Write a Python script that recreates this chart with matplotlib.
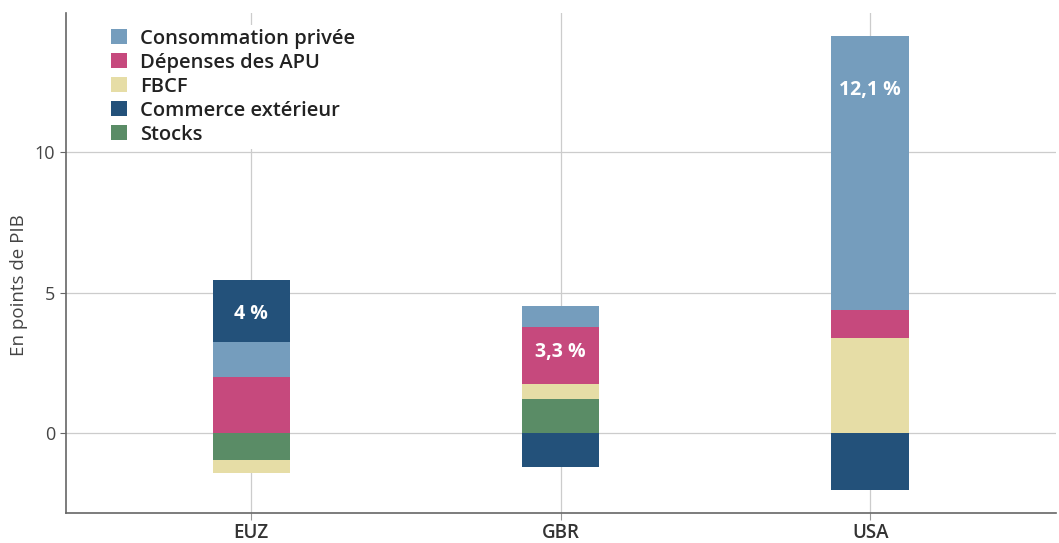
import matplotlib
matplotlib.use("Agg")
from matplotlib import pyplot as plt
from matplotlib.patches import Patch

plt.rcParams['font.family'] = ['Open Sans', 'DejaVu Sans']

countries = ["EUZ", "GBR", "USA"]
series = ["Consommation privée", "Dépenses des APU", "FBCF", "Commerce extérieur", "Stocks"]
colors = ["#759dbd", "#c6497d", "#e6dda6", "#23517a", "#5a8c66"]

# contributions in points of GDP, per country
conso = [1.25, 0.75, 9.75]
apu = [2.0, 2.03, 1.0]
fbcf = [-0.46, 0.53, 3.38]
commerce = [2.2, -1.21, -2.03]
stocks = [-0.96, 1.21, 0.0]

# stacking order (positive and negative stacked separately)
order = [
    ("Stocks", stocks),
    ("FBCF", fbcf),
    ("Dépenses des APU", apu),
    ("Consommation privée", conso),
    ("Commerce extérieur", commerce),
]
totals = ["4 %", "3,3 %", "12,1 %"]
label_y = [4.25, 2.9, 12.2]

color_of = dict(zip(series, colors))

fig, ax = plt.subplots(figsize=(10.59, 5.43), dpi=100)
fig.subplots_adjust(left=0.062, right=0.997, top=0.976, bottom=0.055)

x = list(range(len(countries)))
pos_base = [0.0] * 3
neg_base = [0.0] * 3
for name, vals in order:
    for i, v in enumerate(vals):
        if v >= 0:
            ax.bar(i, v, bottom=pos_base[i], width=0.25, color=color_of[name], zorder=3)
            pos_base[i] += v
        else:
            ax.bar(i, v, bottom=neg_base[i], width=0.25, color=color_of[name], zorder=3)
            neg_base[i] += v

for i, t in enumerate(totals):
    ax.text(i, label_y[i], t, ha="center", va="center", color="white",
            fontsize=14, fontweight="bold", zorder=4)

ax.set_xlim(-0.6, 2.6)
ax.set_ylim(-2.85, 14.95)
ax.set_xticks(x)
ax.set_xticklabels(countries, fontsize=13.5, fontweight="semibold", color="#333333")
ax.set_yticks([0, 5, 10])
ax.tick_params(axis="y", labelsize=13, labelcolor="#444444", length=4, color="#666666")
ax.tick_params(axis="x", length=5, color="#999999", pad=2)
ax.grid(True, color="#cccccc", linewidth=0.9, zorder=0)
ax.set_axisbelow(True)
ax.set_ylabel("En points de PIB", fontsize=13.5, color="#444444")
ax.yaxis.set_label_coords(-0.038, 0.456)
for s in ["top", "right"]:
    ax.spines[s].set_visible(False)
for s in ["left", "bottom"]:
    ax.spines[s].set_color("#666666")
    ax.spines[s].set_linewidth(1.2)

handles = [Patch(facecolor=c, label=n) for n, c in zip(series, colors)]
leg = ax.legend(handles=handles, loc="upper left", bbox_to_anchor=(0.032, 0.997),
                frameon=True, framealpha=1, edgecolor="none", fancybox=False,
                prop={"size": 14.5, "weight": "semibold"}, handlelength=0.75,
                handleheight=0.75, handletextpad=0.65, labelspacing=0.2,
                borderpad=0.2)
for t in leg.get_texts():
    t.set_color("#222222")

plt.savefig("out.png")
